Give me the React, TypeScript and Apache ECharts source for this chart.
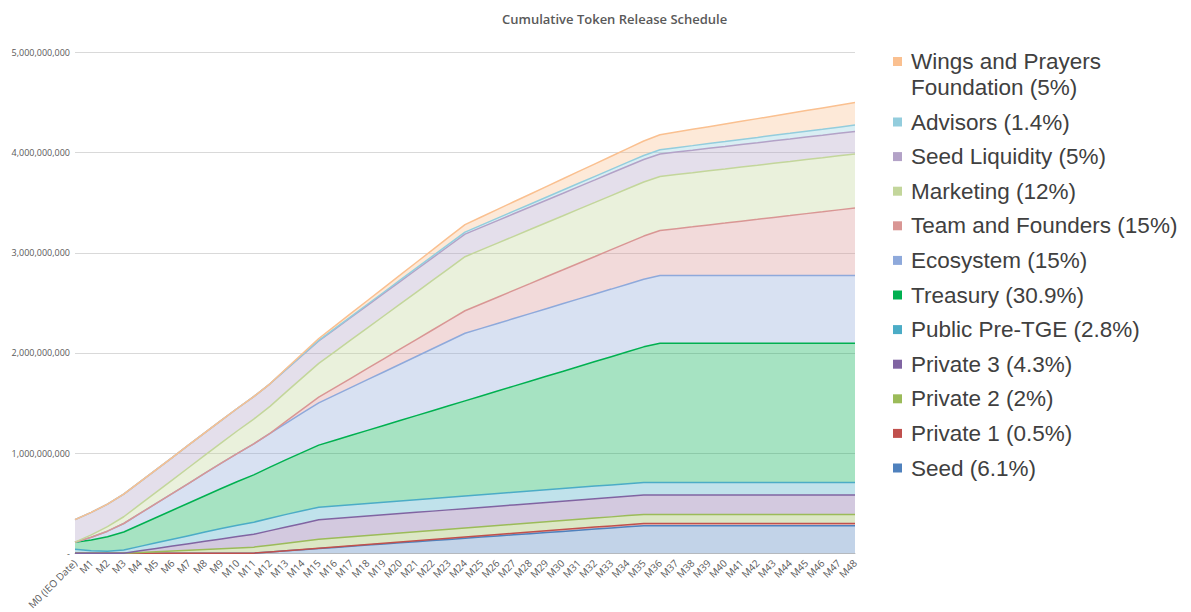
import { useEffect, useRef } from "react";
import * as echarts from "echarts";

// Month labels along the x axis
const months = [
  "M0 (IEO Date)", "M1", "M2", "M3", "M4", "M5", "M6", "M7", "M8", "M9", "M10",
  "M11", "M12", "M13", "M14", "M15", "M16", "M17", "M18", "M19", "M20",
  "M21", "M22", "M23", "M24", "M25", "M26", "M27", "M28", "M29", "M30",
  "M31", "M32", "M33", "M34", "M35", "M36", "M37", "M38", "M39", "M40",
  "M41", "M42", "M43", "M44", "M45", "M46", "M47", "M48",
];

// Cumulative unlocked tokens per allocation, in millions
const seed = [
  0, 0, 0, 0, 0, 0, 0, 0, 0, 0, 0, 0,
  11.4, 22.9, 34.3, 45.8, 57.2, 68.6, 80.1, 91.5, 102.9, 114.4, 125.8, 137.3,
  148.7, 160.1, 171.6, 183.0, 194.4, 205.9, 217.3, 228.8, 240.2, 251.6, 263.1, 274.5,
  274.5, 274.5, 274.5, 274.5, 274.5, 274.5, 274.5, 274.5, 274.5, 274.5, 274.5, 274.5, 274.5,
];
const private1 = [
  0, 0, 0, 0, 0, 0, 0, 0, 0, 0, 0, 0,
  0.9, 1.9, 2.8, 3.8, 4.7, 5.6, 6.6, 7.5, 8.4, 9.4, 10.3, 11.3,
  12.2, 13.1, 14.1, 15.0, 15.9, 16.9, 17.8, 18.8, 19.7, 20.6, 21.6, 22.5,
  22.5, 22.5, 22.5, 22.5, 22.5, 22.5, 22.5, 22.5, 22.5, 22.5, 22.5, 22.5, 22.5,
];
const private2 = [
  0, 0, 0, 0, 7.5, 15, 22.5, 30, 37.5, 45, 52.5, 60, 67.5, 75, 82.5, 90,
  90, 90, 90, 90, 90, 90, 90, 90, 90, 90, 90, 90, 90, 90, 90, 90, 90,
  90, 90, 90, 90, 90, 90, 90, 90, 90, 90, 90, 90, 90, 90, 90, 90,
];
const private3 = [
  0, 0, 0, 0, 16.1, 32.3, 48.4, 64.5, 80.6, 96.8, 112.9, 129.0, 145.1, 161.3, 177.4, 193.5,
  193.5, 193.5, 193.5, 193.5, 193.5, 193.5, 193.5, 193.5, 193.5, 193.5, 193.5,
  193.5, 193.5, 193.5, 193.5, 193.5, 193.5, 193.5, 193.5, 193.5, 193.5, 193.5,
  193.5, 193.5, 193.5, 193.5, 193.5, 193.5, 193.5, 193.5, 193.5, 193.5, 193.5,
];
const publicPreTge = [
  40, 25, 20, 32, 44, 56, 68, 80, 92, 104, 114, 120, 124,
  126, 126, 126, 126, 126, 126, 126, 126, 126, 126, 126, 126,
  126, 126, 126, 126, 126, 126, 126, 126, 126, 126, 126, 126,
  126, 126, 126, 126, 126, 126, 126, 126, 126, 126, 126, 126,
];
const treasury = [
  69.5, 106.2, 142.9, 179.6, 216.3, 253.0, 289.7, 326.4, 363.1, 399.8, 436.5, 473.1,
  509.8, 546.5, 583.2, 619.9, 656.6, 693.3, 730.0, 766.7, 803.4, 840.1, 876.8, 913.5,
  950.2, 986.9, 1023.6, 1060.3, 1097.0, 1133.7, 1170.3, 1207.0, 1243.7, 1280.4, 1317.1, 1353.8,
  1390.5, 1390.5, 1390.5, 1390.5, 1390.5, 1390.5, 1390.5, 1390.5, 1390.5, 1390.5, 1390.5, 1390.5, 1390.5,
];
const ecosystem = [
  0, 28.1, 56.3, 84.4, 112.5, 140.6, 168.8, 196.9, 225.0, 253.1, 281.3, 309.4,
  337.5, 365.6, 393.8, 421.9, 450.0, 478.1, 506.3, 534.4, 562.5, 590.6, 618.8, 646.9,
  675, 675, 675, 675, 675, 675, 675, 675, 675, 675, 675, 675,
  675, 675, 675, 675, 675, 675, 675, 675, 675, 675, 675, 675, 675,
];
const teamFounders = [
  0, 0, 0, 0, 0, 0, 0, 0, 0, 0, 0, 0, 0,
  18.8, 37.5, 56.3, 75, 93.8, 112.5, 131.3, 150, 168.8, 187.5, 206.3, 225,
  243.8, 262.5, 281.3, 300, 318.8, 337.5, 356.3, 375, 393.8, 412.5, 431.3, 450,
  468.8, 487.5, 506.3, 525, 543.8, 562.5, 581.3, 600, 618.8, 637.5, 656.3, 675,
];
const marketing = [
  0, 22.5, 45, 67.5, 90, 112.5, 135, 157.5, 180, 202.5, 225, 247.5,
  270, 292.5, 315, 337.5, 360, 382.5, 405, 427.5, 450, 472.5, 495, 517.5,
  540, 540, 540, 540, 540, 540, 540, 540, 540, 540, 540, 540,
  540, 540, 540, 540, 540, 540, 540, 540, 540, 540, 540, 540, 540,
];
const seedLiquidity = [
  225, 225, 225, 225, 225, 225, 225, 225, 225, 225, 225, 225,
  225, 225, 225, 225, 225, 225, 225, 225, 225, 225, 225, 225,
  225, 225, 225, 225, 225, 225, 225, 225, 225, 225, 225, 225,
  225, 225, 225, 225, 225, 225, 225, 225, 225, 225, 225, 225, 225,
];
const advisors = [
  0, 0, 0, 0, 0, 0, 0, 0, 0, 0, 0, 0, 0,
  1.8, 3.5, 5.3, 7, 8.8, 10.5, 12.3, 14, 15.8, 17.5, 19.3, 21,
  22.8, 24.5, 26.3, 28, 29.8, 31.5, 33.3, 35, 36.8, 38.5, 40.3, 42,
  43.8, 45.5, 47.3, 49, 50.8, 52.5, 54.3, 56, 57.8, 59.5, 61.3, 63,
];
const wingsPrayers = [
  0, 0, 0, 0, 0, 0, 0, 0, 0, 0, 0, 0, 0,
  6.3, 12.5, 18.8, 25, 31.3, 37.5, 43.8, 50, 56.3, 62.5, 68.8, 75,
  81.3, 87.5, 93.8, 100, 106.3, 112.5, 118.8, 125, 131.3, 137.5, 143.8, 150,
  156.3, 162.5, 168.8, 175, 181.3, 187.5, 193.8, 200, 206.3, 212.5, 218.8, 225,
];

const seriesNames = [
  "Seed (6.1%)",
  "Private 1 (0.5%)",
  "Private 2 (2%)",
  "Private 3 (4.3%)",
  "Public Pre-TGE (2.8%)",
  "Treasury (30.9%)",
  "Ecosystem (15%)",
  "Team and Founders (15%)",
  "Marketing (12%)",
  "Seed Liquidity (5%)",
  "Advisors (1.4%)",
  "Wings and Prayers Foundation (5%)",
];
// Legend wording; the long first entry wraps onto two lines
const legendLines = [
  ["Seed (6.1%)"],
  ["Private 1 (0.5%)"],
  ["Private 2 (2%)"],
  ["Private 3 (4.3%)"],
  ["Public Pre-TGE (2.8%)"],
  ["Treasury (30.9%)"],
  ["Ecosystem (15%)"],
  ["Team and Founders (15%)"],
  ["Marketing (12%)"],
  ["Seed Liquidity (5%)"],
  ["Advisors (1.4%)"],
  ["Wings and Prayers", "Foundation (5%)"],
];
const seriesColors = [
  "#4F81BD",
  "#C0504D",
  "#9BBB59",
  "#8064A2",
  "#4BACC6",
  "#00B050",
  "#8EA9DB",
  "#D99694",
  "#C3D69B",
  "#B3A2C7",
  "#93CDDD",
  "#FAC090",
];

const FONT = "Open Sans";
const LEGEND_FONT = "Liberation Sans";

export default function App() {
  const ref = useRef<HTMLDivElement>(null);

  useEffect(() => {
    if (!ref.current) return;
    const chart = echarts.init(ref.current, null, { renderer: "svg" });
    const allSeries = [
      seed, private1, private2, private3, publicPreTge, treasury,
      ecosystem, teamFounders, marketing, seedLiquidity, advisors, wingsPrayers,
    ];

    // Legend drawn top-down in reverse stacking order
    const legendChildren: any[] = [];
    const order = allSeries.map((_, i) => allSeries.length - 1 - i);
    let cy = 61.5;
    order.forEach((idx) => {
      legendChildren.push({
        type: "rect",
        shape: { x: 893, y: cy - 4.5, width: 9, height: 9 },
        style: { fill: seriesColors[idx] },
      });
      legendLines[idx].forEach((line, j) => {
        legendChildren.push({
          type: "text",
          x: 911,
          y: cy + j * 25.5,
          style: {
            text: line,
            fontSize: 22.5,
            fontFamily: LEGEND_FONT,
            fill: "#404040",
            verticalAlign: "middle",
          },
        });
      });
      cy += legendLines[idx].length === 2 ? 60.5 : 34.6;
    });

    chart.setOption({
      animation: false,
      backgroundColor: "#ffffff",
      title: {
        text: "Cumulative Token Release Schedule",
        left: 497,
        top: 7,
        textStyle: {
          fontFamily: FONT,
          fontSize: 13,
          fontWeight: 600,
          color: "#595959",
        },
      },
      grid: { left: 75, right: 336, top: 52.5, bottom: 54.5 },
      xAxis: {
        type: "category",
        data: months,
        boundaryGap: false,
        axisLine: { lineStyle: { color: "#bfbfbf", width: 1 } },
        axisTick: { show: false },
        axisLabel: {
          interval: 0,
          rotate: 45,
          fontSize: 10,
          fontFamily: FONT,
          color: "#595959",
          margin: 8,
        },
      },
      yAxis: {
        type: "value",
        min: 0,
        max: 5000,
        interval: 1000,
        axisLine: { show: false },
        axisTick: { show: false },
        splitLine: { lineStyle: { color: "#d9d9d9", width: 1 } },
        axisLabel: {
          fontSize: 9,
          fontFamily: FONT,
          color: "#595959",
          margin: 5,
          formatter: (v: number) =>
            v === 0 ? "-" : (v * 1e6).toLocaleString("en-US"),
        },
      },
      series: allSeries.map((d, i) => ({
        name: seriesNames[i],
        type: "line",
        stack: "total",
        data: d,
        symbol: "none",
        showSymbol: false,
        lineStyle: { width: 1.5, color: seriesColors[i] },
        itemStyle: { color: seriesColors[i] },
        areaStyle: { color: seriesColors[i], opacity: 0.35 },
      })),
      graphic: [{ type: "group", children: legendChildren }],
    });

    return () => chart.dispose();
  }, []);

  return (
    <div
      ref={ref}
      style={{
        position: "fixed",
        left: 0,
        top: 0,
        width: 1191,
        height: 612,
        background: "#ffffff",
      }}
    />
  );
}
